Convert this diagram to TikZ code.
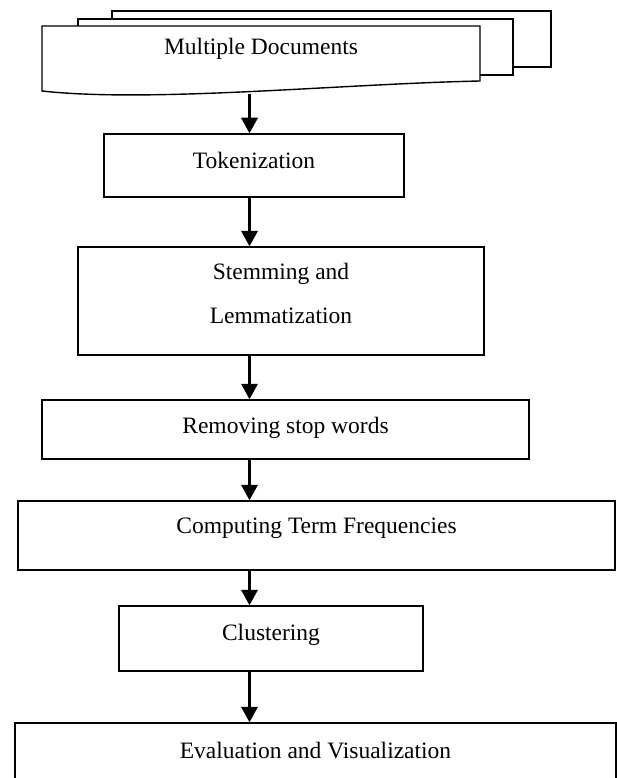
\documentclass[tikz,border=0pt]{standalone}
\usepackage{fontspec}
\setmainfont{Liberation Serif}
\usetikzlibrary{arrows.meta}
\begin{document}
\begin{tikzpicture}[x=1pt,y=-1pt,
  box/.style={draw, line width=1.5pt, rectangle, inner sep=0pt, fill=white},
  txt/.style={anchor=base, inner sep=0pt, font=\fontsize{23.5}{28}\selectfont},
  arr/.style={line width=2.2pt, -{Triangle[length=15.5pt,width=16.5pt]}},
  docline/.style={draw, line width=1.4pt, fill=white, line join=miter}]
\useasboundingbox (0,0) rectangle (617,778);
% multiple documents symbol
\path[docline] (112,11) rectangle (551,67);
\path[docline] (78,19) rectangle (513,75);
\path[docline] (42,26) -- (480,26) -- (480,81)
  .. controls (340,84) and (150,103) .. (42,91) -- cycle;
\node[txt] (doctxt) at (261,55) {Multiple Documents};
\coordinate (docb) at (249.5,94.2);
\coordinate (ax) at (249.5,0);
% process boxes
\node[box, minimum width=300pt, minimum height=63pt] (tok) at (254,165.5) {};
\node[txt] (toktxt) at (254,168) {Tokenization};
\node[box, minimum width=406pt, minimum height=108pt] (stem) at (281,301) {};
\node[txt] (stemtxt1) at (281,279) {Stemming and};
\node[txt] (stemtxt2) at (281,323) {Lemmatization};
\node[box, minimum width=487pt, minimum height=59pt] (rem) at (285.5,429.5) {};
\node[txt] (remtxt) at (285.5,433) {Removing stop words};
\node[box, minimum width=597pt, minimum height=69pt] (comp) at (316.5,535.5) {};
\node[txt] (comptxt) at (316.5,533) {Computing Term Frequencies};
\node[box, minimum width=304pt, minimum height=65pt] (clus) at (271,638.5) {};
\node[txt] (clustxt) at (271,640) {Clustering};
\node[box, minimum width=601pt, minimum height=72pt] (eval) at (315.5,759) {};
\node[txt] (evaltxt) at (315.5,758) {Evaluation and Visualization};
% connectors
\draw[arr] (docb) -- (tok.north -| ax);
\draw[arr] (tok.south -| ax) -- (stem.north -| ax);
\draw[arr] (stem.south -| ax) -- (rem.north -| ax);
\draw[arr] (rem.south -| ax) -- (comp.north -| ax);
\draw[arr] (comp.south -| ax) -- (clus.north -| ax);
\draw[arr] (clus.south -| ax) -- (eval.north -| ax);
\end{tikzpicture}
\end{document}
